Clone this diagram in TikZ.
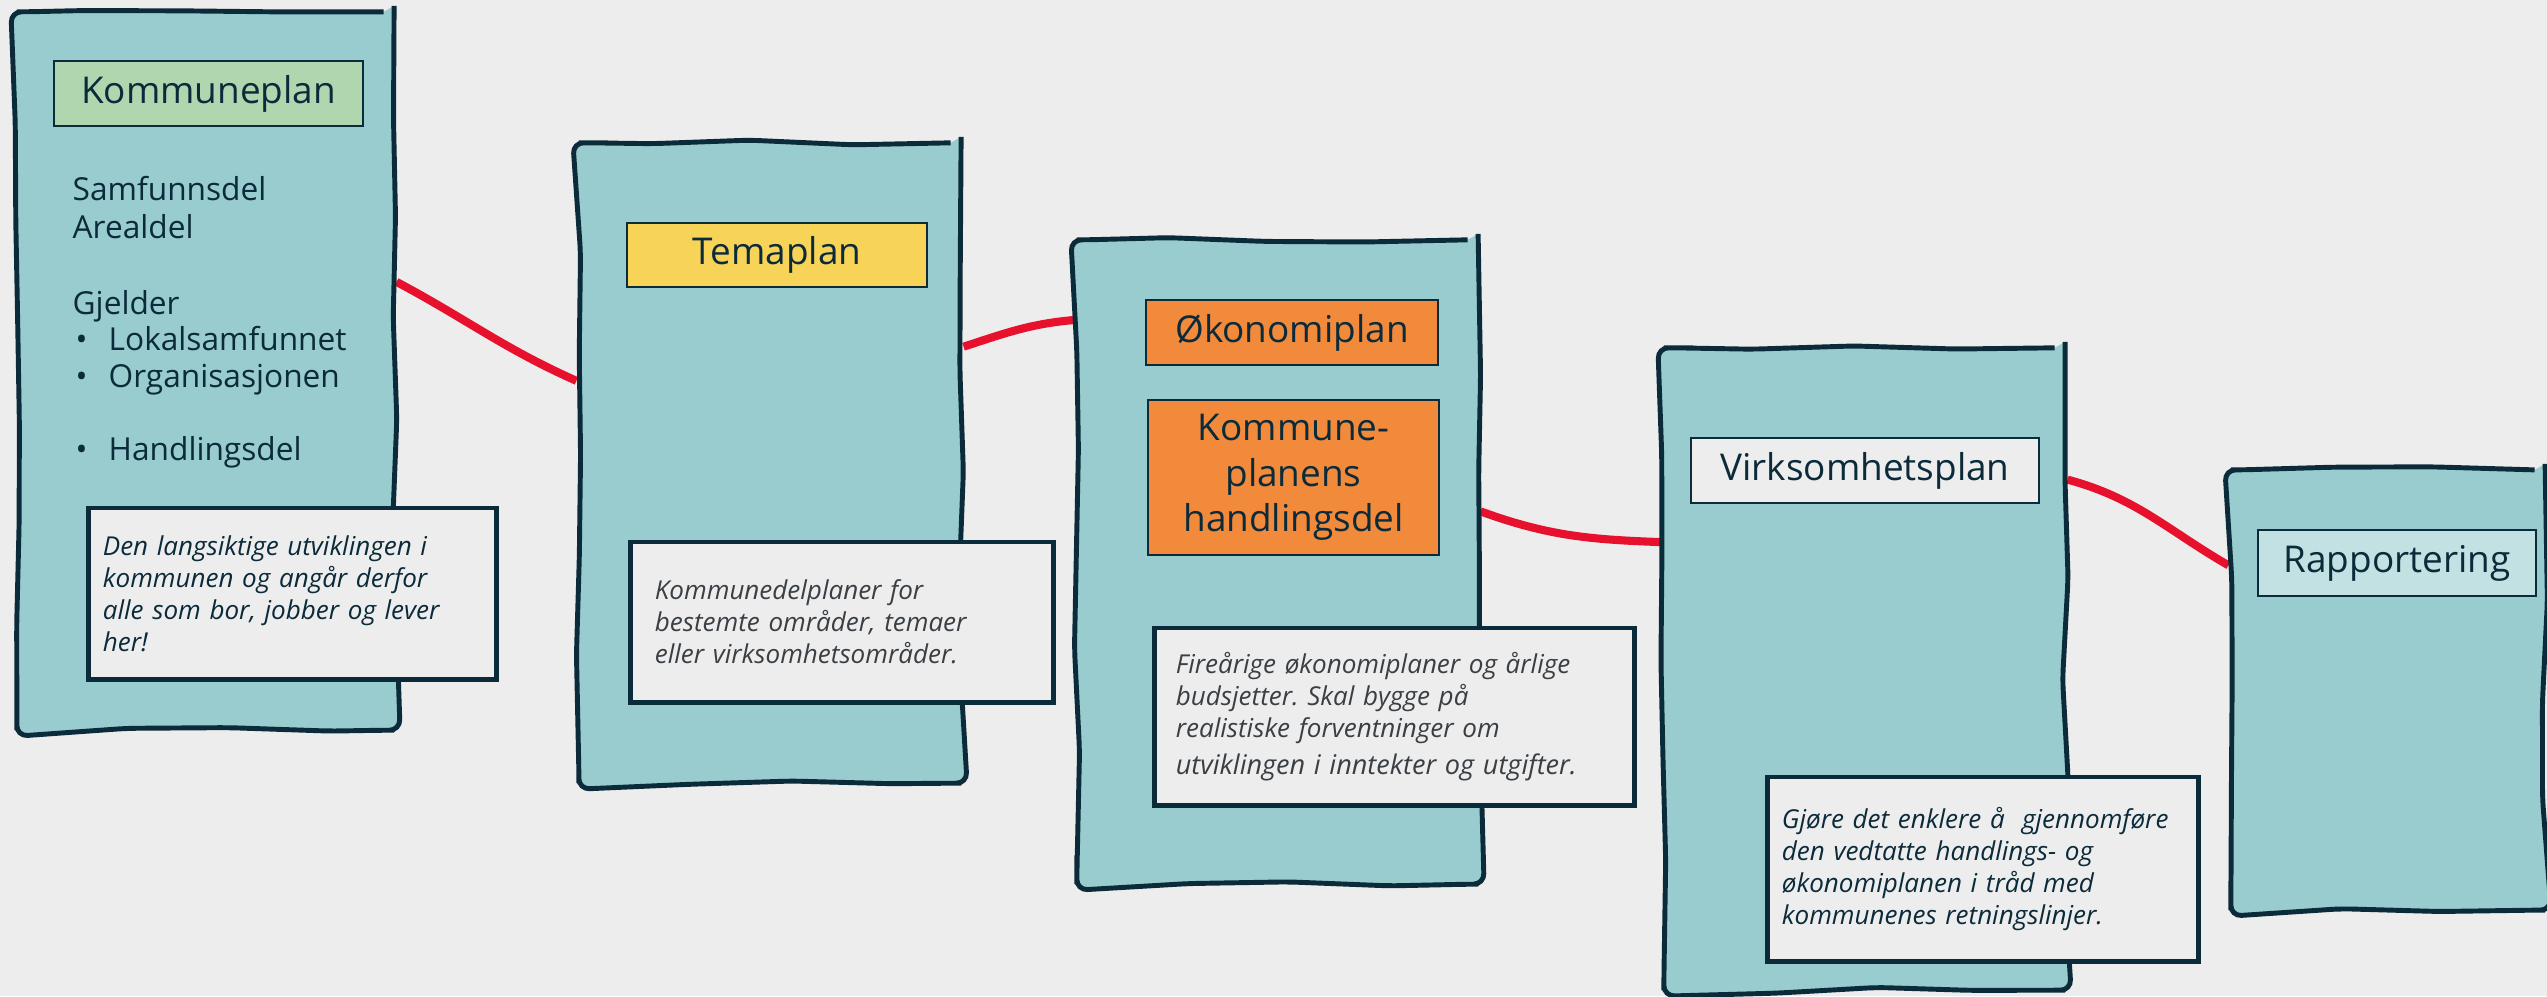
\documentclass[tikz,border=0pt]{standalone}
\usepackage{fontspec}
\setmainfont{Open Sans}
\usetikzlibrary{decorations.pathmorphing,backgrounds}

\definecolor{bgcol}{HTML}{EDEDED}
\definecolor{panelcol}{HTML}{98CCCF}
\definecolor{ink}{HTML}{0B2A3A}
\definecolor{notegray}{HTML}{3A3F44}
\definecolor{greencol}{HTML}{B0D6B0}
\definecolor{yellowcol}{HTML}{F7D358}
\definecolor{orangecol}{HTML}{F28A3C}
\definecolor{lightcol}{HTML}{C2E1E3}
\definecolor{linkred}{HTML}{E8112D}

\newcommand{\bul}{\makebox[0.36cm][l]{\hspace{0.03cm}\textbullet}}
\frenchspacing

\tikzset{
  panel/.style={draw=ink, fill=panelcol, line width=1.4pt, inner sep=0pt,
    decorate, decoration={random steps, segment length=1cm, amplitude=0.9pt},
    rounded corners=3pt},
  plantitle/.style={draw=ink, line width=0.45pt, inner sep=0pt, text=ink,
    font=\fontsize{10.5}{13}\selectfont, align=center},
  notebox/.style={draw=ink, fill=bgcol, line width=1.4pt, text=ink, align=left,
    inner ysep=0pt, font=\fontsize{7.4}{9.1}\selectfont\itshape},
  link/.style={draw=linkred, line width=2.3pt},
}

\begin{document}
\begin{tikzpicture}[x=0.01cm, y=-0.01cm]
  \useasboundingbox (0,0) rectangle (2547,996);
  \pgfmathsetseed{11}
  % the five plan sheets
  \node[panel, minimum width=3.77cm, minimum height=7.18cm] (p1) at (205.5,371) {};
  \node[panel, minimum width=3.82cm, minimum height=6.40cm] (p2) at (770,463) {};
  \node[panel, minimum width=4.01cm, minimum height=6.44cm] (p3) at (1277.5,562) {};
  \node[panel, minimum width=4.01cm, minimum height=6.42cm] (p4) at (1864.5,669) {};
  \node[panel, minimum width=3.14cm, minimum height=4.40cm] (p5) at (2388,690) {};
  %
  \begin{pgfonlayer}{background}
    \fill[bgcol] (0,0) rectangle (2547,996);
    \draw[link] (p1.25) to[out=-28, in=156] (p2.157);
    \draw[link] (p2.31) to[out=18, in=-175] (p3.130);
    \draw[link] (p3.14) to[out=-20, in=178] (p4.148);
    \draw[link] (p4.43) to[out=-15, in=150] (p5.142);
  \end{pgfonlayer}
  % Kommuneplan
  \node[plantitle, fill=greencol, minimum width=3.09cm, minimum height=0.65cm] (kp) at (208.5,93.5) {Kommuneplan};
  \node[anchor=north west, inner sep=0pt, align=left, text=ink, font=\fontsize{9}{10.4}\selectfont] (kpdeler) at (72,176)
    {Samfunnsdel\\[0.4pt]Arealdel\\[11pt]Gjelder\\\bul Lokalsamfunnet\\\bul Organisasjonen\\[10.4pt]\bul Handlingsdel};
  \node[notebox, minimum width=4.07cm, minimum height=1.71cm, inner xsep=0.14cm, text width=3.79cm] (n1) at (292.5,593.5)
    {Den langsiktige utviklingen i\\kommunen og angår derfor\\alle som bor, jobber og lever\\her!};
  % Temaplan
  \node[plantitle, fill=yellowcol, minimum width=3.00cm, minimum height=0.64cm] (tp) at (777,255) {Temaplan};
  \node[notebox, text=notegray, minimum width=4.22cm, minimum height=1.60cm, inner xsep=0.24cm, text width=3.74cm] (n2) at (842,622)
    {Kommunedelplaner for\\bestemte områder, temaer\\eller virksomhetsområder.};
  % Økonomiplan
  \node[plantitle, fill=orangecol, minimum width=2.92cm, minimum height=0.65cm] (op) at (1292,332.5) {Økonomiplan};
  \node[plantitle, fill=orangecol, minimum width=2.91cm, minimum height=1.55cm] (hd) at (1293.5,477.5) {Kommune-\\planens\\handlingsdel};
  \node[notebox, text=notegray, minimum width=4.79cm, minimum height=1.77cm, inner xsep=0.21cm, text width=4.37cm] (n3) at (1394.5,716.5)
    {Fireårige økonomiplaner og årlige\\budsjetter. Skal bygge på\\realistiske forventninger om\\[1.5pt]{\fontsize{7.7}{9.1}\selectfont utviklingen i inntekter og utgifter.}};
  % Virksomhetsplan
  \node[plantitle, fill=bgcol, minimum width=3.48cm, minimum height=0.65cm] (vp) at (1865,470.5) {Virksomhetsplan};
  \node[notebox, minimum width=4.30cm, minimum height=1.84cm, inner xsep=0.14cm, text width=4.02cm] (n4) at (1983,869)
    {Gjøre det enklere å\ \ gjennomføre\\den vedtatte handlings- og\\økonomiplanen i tråd med\\kommunenes retningslinjer.};
  % Rapportering
  \node[plantitle, fill=lightcol, minimum width=2.78cm, minimum height=0.66cm] (rp) at (2397,563) {Rapportering};
\end{tikzpicture}
\end{document}
